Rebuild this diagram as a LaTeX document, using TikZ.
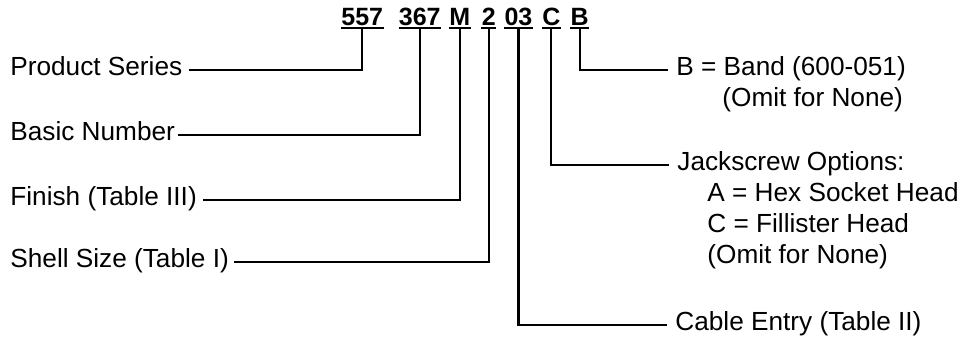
\documentclass[tikz,border=0pt]{standalone}
\usepackage{fontspec}
\setmainfont{Liberation Sans}
\usetikzlibrary{positioning}
\tikzset{
  pn/.style    = {inner sep=0pt, font=\fontsize{12.5}{15}\selectfont\bfseries,
                  text height=0.72em, text depth=1.5pt},
  lbl/.style   = {inner sep=0pt, font=\fontsize{13.1}{15.5}\selectfont,
                  text height=0.5em, text depth=0pt, anchor=base west},
  note/.style  = {inner sep=0pt, font=\fontsize{13.1}{15.5}\selectfont, anchor=base west},
  lead/.style  = {line width=1.1pt},
  uline/.style = {line width=1pt},
}

\begin{document}
\begin{tikzpicture}[x=0.5pt, y=-0.5pt, node distance=4pt]
  \fill[white] (0,0) rectangle (964,339);
  % part number
  \node[pn, anchor=base west] (ser) at (341,25) {557};
  \node[pn, right=7.5pt of ser] (bas) {367};
  \node[pn, right=4pt of bas] (fin) {M};
  \node[pn, right=5.4pt of fin] (shl) {2};
  \node[pn, right=4pt of shl] (cab) {03};
  \node[pn, right=4.6pt of cab] (jck) {C};
  \node[pn, right=4.75pt of jck] (bnd) {B};
  \foreach \n in {ser,bas,fin,shl,cab,jck,bnd}
    \draw[uline] (\n.south west) -- (\n.south east);

  % left side
  \node[lbl] (series) at (10,75) {Product Series};
  \node[lbl] (basic) at (10,140) {Basic Number};
  \node[lbl] (finish) at (10,205) {Finish (Table III)};
  \node[lbl] (shell) at (10,267) {Shell Size (Table I)};
  \draw[lead] ([xshift=3pt]series.east) -| (ser.south);
  \draw[lead] ([xshift=1.5pt]basic.east) -| (bas.south);
  \draw[lead] ([xshift=3pt]finish.east) -| (fin.south);
  \draw[lead] ([xshift=2.5pt]shell.east) -| (shl.south);

  % right side
  \node[lbl] (band) at (676,75) {B = Band (600-051)};
  \node[note] (bandnone) at (722,106) {(Omit for None)};
  \node[lbl] (jack) at (677,170) {Jackscrew Options:};
  \node[note] (hexhd) at (707,201) {A = Hex Socket Head};
  \node[note] (filhd) at (707,232) {C = Fillister Head};
  \node[note] (jacknone) at (707,263) {(Omit for None)};
  \node[lbl] (entry) at (675,330) {Cable Entry (Table II)};
  \draw[lead] (bnd.south) |- ([xshift=-4pt]band.west);
  \draw[lead] (jck.south) |- ([xshift=-4pt]jack.west);
  \draw[lead] (cab.south) |- ([xshift=-4pt]entry.west);
\end{tikzpicture}
\end{document}
